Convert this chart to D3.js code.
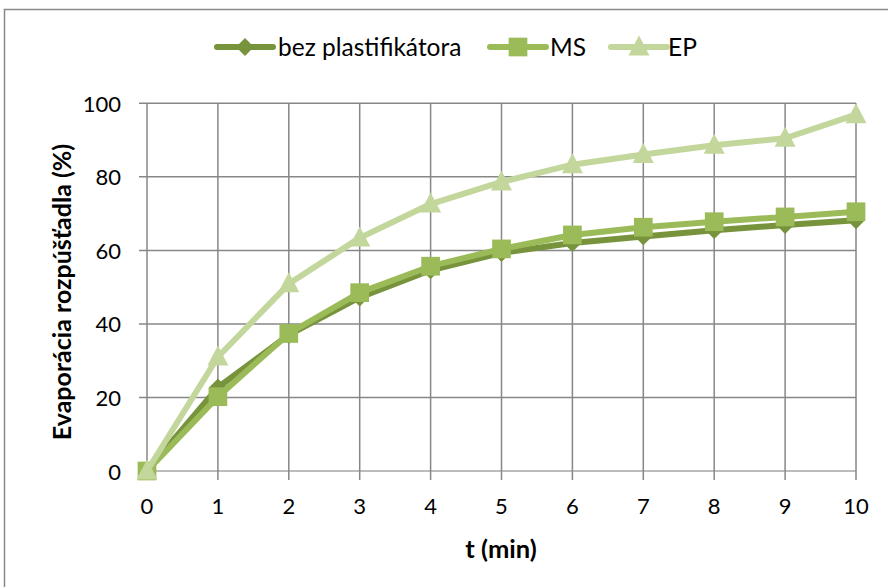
<!DOCTYPE html>
<html>
<head>
<meta charset="utf-8">
<script src="https://cdn.jsdelivr.net/npm/d3@7"></script>
<style>
  html, body { margin: 0; padding: 0; background: #fff; }
  svg { display: block; font-family: Lato, "Open Sans", sans-serif; }
</style>
</head>
<body>
<svg id="chart" width="888" height="587"></svg>
<script>
// Time points (min)
const times = [0, 1, 2, 3, 4, 5, 6, 7, 8, 9, 10];
// Solvent evaporation (%) per formulation
const bezPlast = [0, 22.7, 37.0, 47.2, 54.6, 59.3, 62.0, 63.8, 65.5, 66.9, 68.2];
const msValues = [0, 20.2, 37.4, 48.5, 55.7, 60.4, 64.2, 66.3, 67.8, 69.1, 70.5];
const epValues = [0, 31.0, 50.9, 63.4, 72.6, 78.6, 83.3, 86.1, 88.6, 90.5, 96.9];
const yTicks = [0, 20, 40, 60, 80, 100];
const seriesNames = ["bez plastifikátora", "MS", "EP"];

const series = [
  { name: seriesNames[0], values: bezPlast, color: "#77933C", marker: "diamond" },
  { name: seriesNames[1], values: msValues, color: "#9BBB59", marker: "square" },
  { name: seriesNames[2], values: epValues, color: "#C3D69B", marker: "triangle" }
];

const svg = d3.select("#chart");
const plotL = 147, plotR = 856, plotT = 103.3, plotB = 471;
const x = d3.scaleLinear().domain([0, 10]).range([plotL, plotR]);
const y = d3.scaleLinear().domain([0, 100]).range([plotB, plotT]);

// Outer chart frame
svg.append("rect")
  .attr("x", 4.5).attr("y", 9.5).attr("width", 900).attr("height", 600)
  .attr("fill", "none").attr("stroke", "#898989").attr("stroke-width", 1.5);

const gridColor = "#878787";
// Horizontal gridlines with left ticks
svg.append("g").selectAll("line").data(yTicks).join("line")
  .attr("x1", plotL - 8).attr("x2", plotR)
  .attr("y1", d => y(d)).attr("y2", d => y(d))
  .attr("stroke", d => d === 0 ? "#a6a6a6" : gridColor).attr("stroke-width", 1.5);
// Vertical gridlines with bottom ticks
svg.append("g").selectAll("line").data(times).join("line")
  .attr("x1", d => x(d)).attr("x2", d => x(d))
  .attr("y1", plotT).attr("y2", plotB + 9)
  .attr("stroke", gridColor).attr("stroke-width", 1.5);

// Tick labels
svg.append("g").selectAll("text").data(yTicks).join("text")
  .attr("x", plotL - 26).attr("y", d => y(d) + 8.5)
  .attr("text-anchor", "end").attr("font-size", 22).attr("fill", "#000")
  .text(d => d);
svg.append("g").selectAll("text").data(times).join("text")
  .attr("x", d => x(d)).attr("y", plotB + 43)
  .attr("text-anchor", "middle").attr("font-size", 22).attr("fill", "#000")
  .text(d => d);

// Axis titles
svg.append("text")
  .attr("x", 501).attr("y", 558)
  .attr("text-anchor", "middle").attr("font-size", 25.5).attr("font-weight", "bold")
  .text("t (min)");
svg.append("text")
  .attr("transform", "translate(71, 292) rotate(-90)")
  .attr("text-anchor", "middle").attr("font-size", 25).attr("font-weight", "bold")
  .text("Evaporácia rozpúšťadla (%)");

// Marker shapes
const trianglePath = () => "M0,-11.5L10.5,8.5L-10.5,8.5Z";
const symbolFor = {
  diamond: d3.symbol().type(d3.symbolSquare).size(160),
  square: d3.symbol().type(d3.symbolSquare).size(350),
  triangle: trianglePath
};
const rotateFor = { diamond: 45, square: 0, triangle: 0 };

const line = d3.line().x((d, i) => x(times[i])).y(d => y(d));

series.forEach(s => {
  const g = svg.append("g");
  g.append("path").datum(s.values)
    .attr("d", line).attr("fill", "none")
    .attr("stroke", s.color).attr("stroke-width", 6).attr("stroke-linejoin", "round");
  g.selectAll("path.m").data(s.values).join("path").attr("class", "m")
    .attr("d", symbolFor[s.marker])
    .attr("transform", (d, i) => `translate(${x(times[i])},${y(d)}) rotate(${rotateFor[s.marker]})`)
    .attr("fill", s.color);
});

// Legend
const legendItems = [
  { s: series[0], x0: 217, tx: 278 },
  { s: series[1], x0: 490, tx: 550 },
  { s: series[2], x0: 611, tx: 668 }
];
const ly = 47;
legendItems.forEach(it => {
  const g = svg.append("g");
  g.append("line").attr("x1", it.x0).attr("x2", it.x0 + 56)
    .attr("y1", ly).attr("y2", ly)
    .attr("stroke", it.s.color).attr("stroke-width", 6).attr("stroke-linecap", "round");
  g.append("path").attr("d", symbolFor[it.s.marker])
    .attr("transform", `translate(${it.x0 + 28},${ly}) rotate(${rotateFor[it.s.marker]})`)
    .attr("fill", it.s.color);
  g.append("text").attr("x", it.tx).attr("y", ly + 8.5)
    .attr("font-size", 24.5).attr("fill", "#000").text(it.s.name);
});
</script>
</body>
</html>
